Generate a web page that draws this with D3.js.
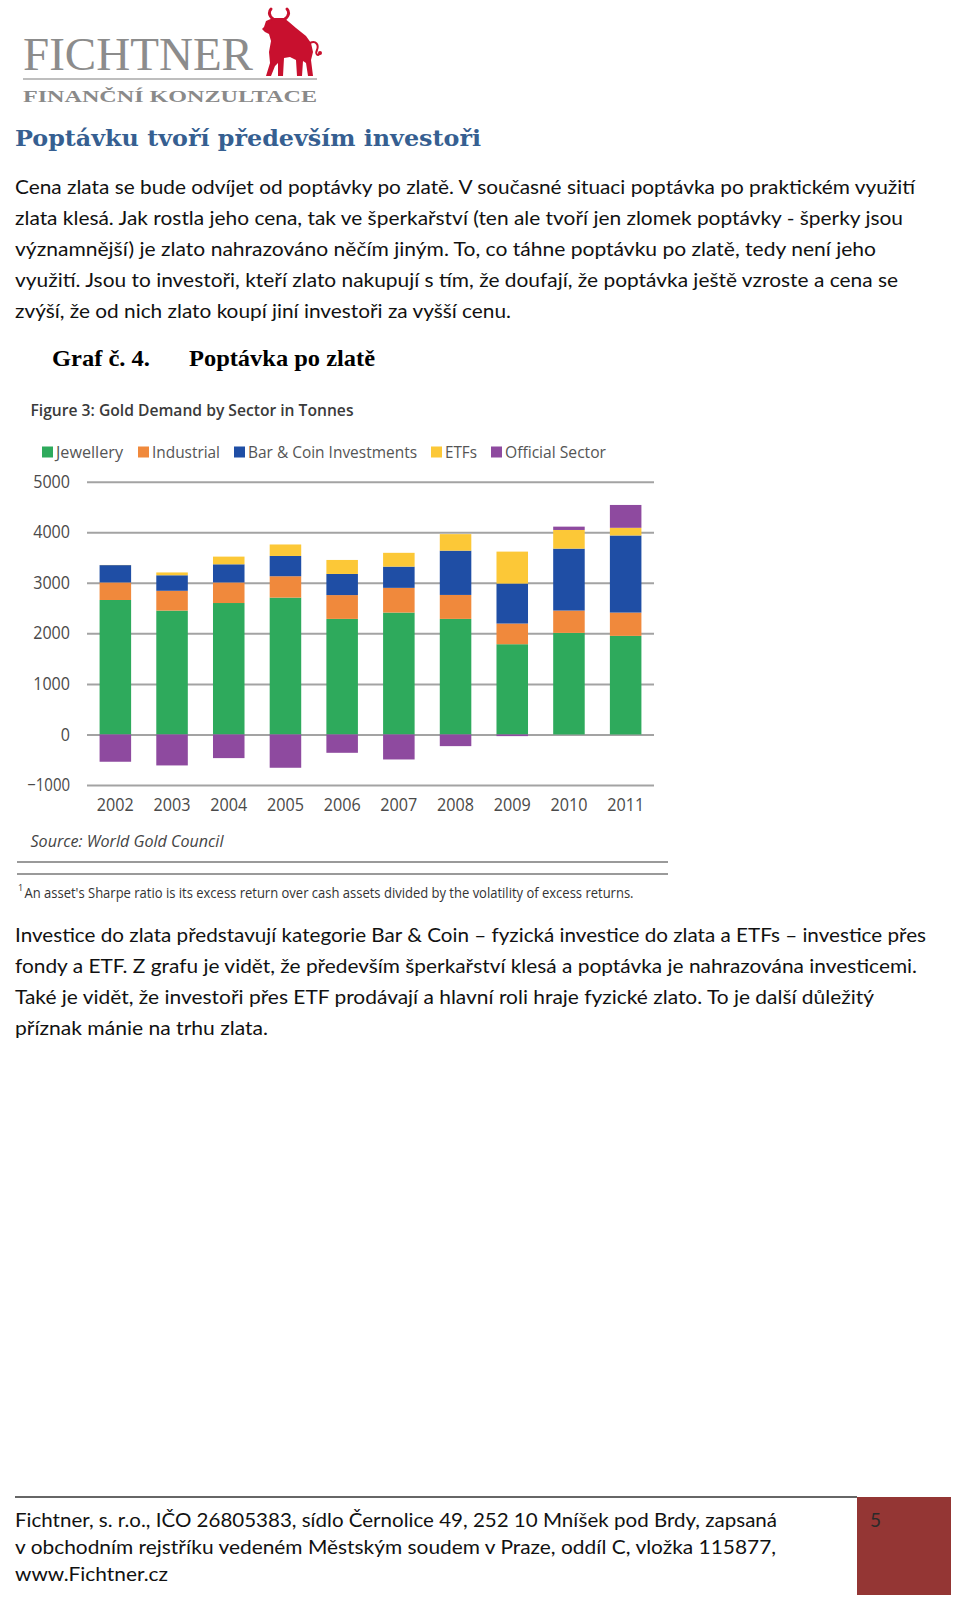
<!DOCTYPE html>
<html>
<head>
<meta charset="utf-8">
<script src="https://cdn.jsdelivr.net/npm/d3@7"></script>
<style>
  html, body { margin: 0; padding: 0; background: #fff; }
  svg { display: block; }
</style>
</head>
<body>
<script>
// ---------------- DATA ----------------
const years = ["2002","2003","2004","2005","2006","2007","2008","2009","2010","2011"];
const jewellery      = [2660, 2450, 2600, 2707, 2286, 2411, 2286, 1785, 2009, 1950];
const industrial     = [ 347,  392,  407,  423,  471,  489,  474,  409,  442,  461];
const barCoin        = [ 343,  307,  359,  401,  418,  420,  876,  791, 1225, 1525];
const etfs           = [   3,   56,  152,  227,  277,  273,  327,  632,  369,  152];
const officialSector = [-540, -613, -468, -659, -363, -495, -231,  -33,   66,  452];
const seriesNames = ["Jewellery", "Industrial", "Bar & Coin Investments", "ETFs", "Official Sector"];
const seriesColors = ["#2eaa5c", "#f0893c", "#1f4ea5", "#fcc837", "#8e4a9f"];
const yTicks = [-1000, 0, 1000, 2000, 3000, 4000, 5000];

const para1 = [
  "Cena zlata se bude odvíjet od poptávky po zlatě. V současné situaci poptávka po praktickém využití",
  "zlata klesá. Jak rostla jeho cena, tak ve šperkařství (ten ale tvoří jen zlomek poptávky - šperky jsou",
  "významnější) je zlato nahrazováno něčím jiným. To, co táhne poptávku po zlatě, tedy není jeho",
  "využití. Jsou to investoři, kteří zlato nakupují s tím, že doufají, že poptávka ještě vzroste a cena se",
  "zvýší, že od nich zlato koupí jiní investoři za vyšší cenu."
];
const para1Widths = [900, 888, 861, 883, 496];
const para2 = [
  "Investice do zlata představují kategorie Bar & Coin – fyzická investice do zlata a ETFs – investice přes",
  "fondy a ETF. Z grafu je vidět, že především šperkařství klesá a poptávka je nahrazována investicemi.",
  "Také je vidět, že investoři přes ETF prodávají a hlavní roli hraje fyzické zlato. To je další důležitý",
  "příznak mánie na trhu zlata."
];
const para2Widths = [911, 902, 859, 253];
const footer = [
  "Fichtner, s. r.o., IČO 26805383, sídlo Černolice 49, 252 10 Mníšek pod Brdy, zapsaná",
  "v  obchodním rejstříku vedeném Městským soudem v Praze, oddíl C, vložka 115877,",
  "www.Fichtner.cz"
];
const footerWidths = [762, 761, 153];

// ---------------- SVG ----------------
const W = 960, H = 1599;
const svg = d3.select("body").append("svg").attr("width", W).attr("height", H);
svg.append("rect").attr("width", W).attr("height", H).attr("fill", "#fff");

function txt(g, x, y, s, o) {
  const t = g.append("text").attr("x", x).attr("y", y).text(s)
    .attr("font-family", o.family || "Lato, 'Open Sans', sans-serif")
    .attr("font-size", o.size || 19)
    .attr("fill", o.fill || "#111");
  if (o.weight) t.attr("font-weight", o.weight);
  if (o.style) t.attr("font-style", o.style);
  if (o.anchor) t.attr("text-anchor", o.anchor);
  if (o.width) t.attr("textLength", o.width).attr("lengthAdjust", "spacingAndGlyphs");
  return t;
}

// ---------------- LOGO ----------------
const logo = svg.append("g");
txt(logo, 23, 70, "FICHTNER", {family: "'Liberation Serif', 'Times New Roman', serif", size: 47, fill: "#8c8c8c", width: 230});
logo.append("line").attr("x1", 23).attr("x2", 317).attr("y1", 79).attr("y2", 79)
  .attr("stroke", "#a8a8a8").attr("stroke-width", 1.5);
txt(logo, 23, 102, "FINANČNÍ KONZULTACE", {family: "'Liberation Serif', 'Times New Roman', serif", weight: "bold", size: 17, fill: "#8a8a8a", width: 294});
// bull silhouette
const bullColor = "#c8102e";
logo.append("path").attr("fill", bullColor).attr("d",
  "M264,27 L266,21 L273,18 L284,18 L289,22 L296,28 L306,36 L311,43 L313,52 L311,60 L313,76 L308,76 L306,63 L303,61 L302,76 L297,76 L296,60 L290,57 L284,58 L283,76 L278,76 L278,63 L275,66 L271,76 L266,76 L270,63 L269,52 L271,41 L269,34 L265,32 L262,29 Z");
logo.append("path").attr("fill", "none").attr("stroke", bullColor).attr("stroke-width", 3).attr("stroke-linecap", "round")
  .attr("d", "M273,19 C268,15 269,11 271,9 M285,19 C290,15 289,11 287,9");
logo.append("path").attr("fill", "none").attr("stroke", bullColor).attr("stroke-width", 2)
  .attr("d", "M310,43 C316,40 319,45 317,50 C315,54 318,57 320,53");
logo.append("circle").attr("cx", 320).attr("cy", 53).attr("r", 2).attr("fill", bullColor);

// ---------------- HEADINGS & TEXT ----------------
txt(svg, 15, 146, "Poptávku tvoří především investoři", {family: "'DejaVu Serif', serif", weight: "bold", size: 22, fill: "#365f91", width: 466});
para1.forEach((s, i) => txt(svg, 15, 193.5 + i * 31.1, s, {width: para1Widths[i]}));
txt(svg, 52, 366, "Graf č. 4.", {family: "'Liberation Serif', 'Times New Roman', serif", weight: "bold", size: 24, fill: "#000", width: 98});
txt(svg, 189, 366, "Poptávka po zlatě", {family: "'Liberation Serif', 'Times New Roman', serif", weight: "bold", size: 24, fill: "#000", width: 186});

// ---------------- CHART ----------------
const chart = svg.append("g");
const chartFont = "'Open Sans', 'Noto Sans', sans-serif";
txt(chart, 30.5, 416, "Figure 3: Gold Demand by Sector in Tonnes", {family: chartFont, weight: 600, size: 16.5, fill: "#3a3a3a", width: 323});

// legend
const legendX = [42, 138, 234, 431, 491];
const legendW = [67, 68, 169, 32, 101];
seriesNames.forEach((n, i) => {
  chart.append("rect").attr("x", legendX[i]).attr("y", 446.5).attr("width", 11).attr("height", 11).attr("fill", seriesColors[i]);
  txt(chart, legendX[i] + 14, 458, n, {family: chartFont, size: 16, fill: "#555", width: legendW[i]});
});

const x = d3.scaleBand().domain(years).range([87, 654]).paddingInner(0.444).paddingOuter(0.222);
const y = d3.scaleLinear().domain([-1000, 5000]).range([785, 481.7]);

// y axis with gridlines
const yAxis = chart.append("g").attr("transform", "translate(87,0)")
  .call(d3.axisLeft(y).tickValues(yTicks).tickSize(-(654 - 87)).tickPadding(17).tickFormat(d3.format("d")));
yAxis.select(".domain").remove();
yAxis.selectAll(".tick line").attr("stroke", "#a3a3a3").attr("stroke-width", 2);
yAxis.selectAll(".tick text").attr("font-family", chartFont).attr("font-size", 17.5).attr("fill", "#4a4a4a")
  .each(function(d) {
    const s = String(d);
    const w = s.replace("-", "").length * 9.2 + (s.startsWith("-") ? 6 : 0);
    d3.select(this).attr("textLength", w).attr("lengthAdjust", "spacingAndGlyphs");
  });

// stacked bars
const rows = years.map((yr, i) => ({year: yr, j: jewellery[i], ind: industrial[i], bc: barCoin[i], etf: etfs[i], off: officialSector[i]}));
const keys = ["j", "ind", "bc", "etf", "off"];
const stacked = d3.stack().keys(keys).offset(d3.stackOffsetDiverging)(rows);
chart.append("g").selectAll("g").data(stacked).join("g")
  .attr("fill", (d, i) => seriesColors[i])
  .selectAll("rect").data(d => d).join("rect")
  .attr("x", d => x(d.data.year))
  .attr("width", x.bandwidth())
  .attr("y", d => y(Math.max(d[0], d[1])))
  .attr("height", d => Math.abs(y(d[0]) - y(d[1])));

// x axis labels
const xAxis = chart.append("g").attr("transform", "translate(0,785)")
  .call(d3.axisBottom(x).tickSize(0).tickPadding(14));
xAxis.select(".domain").remove();
xAxis.selectAll(".tick text").attr("font-family", chartFont).attr("font-size", 17.5).attr("fill", "#4a4a4a")
  .attr("textLength", 37).attr("lengthAdjust", "spacingAndGlyphs");

txt(chart, 30.5, 847, "Source: World Gold Council", {family: chartFont, style: "italic", size: 16.5, fill: "#444", width: 193});
chart.append("line").attr("x1", 17).attr("x2", 668).attr("y1", 862).attr("y2", 862).attr("stroke", "#9a9a9a").attr("stroke-width", 2);
chart.append("line").attr("x1", 17).attr("x2", 668).attr("y1", 874).attr("y2", 874).attr("stroke", "#9a9a9a").attr("stroke-width", 2);
txt(chart, 18, 891, "1", {family: chartFont, size: 9, fill: "#333"});
txt(chart, 24.5, 898, "An asset's Sharpe ratio is its excess return over cash assets divided by the volatility of excess returns.", {family: chartFont, size: 14, fill: "#333", width: 609});

// ---------------- PARAGRAPH 2 ----------------
para2.forEach((s, i) => txt(svg, 15, 941.5 + i * 31.1, s, {width: para2Widths[i]}));

// ---------------- FOOTER ----------------
svg.append("line").attr("x1", 15).attr("x2", 857).attr("y1", 1497).attr("y2", 1497).attr("stroke", "#333").attr("stroke-width", 1.5);
svg.append("rect").attr("x", 857).attr("y", 1497).attr("width", 94).attr("height", 98).attr("fill", "#943634");
txt(svg, 870, 1527, "5", {fill: "#2a2a2a"});
footer.forEach((s, i) => txt(svg, 15, 1527 + i * 27, s, {width: footerWidths[i]}));
</script>
</body>
</html>
